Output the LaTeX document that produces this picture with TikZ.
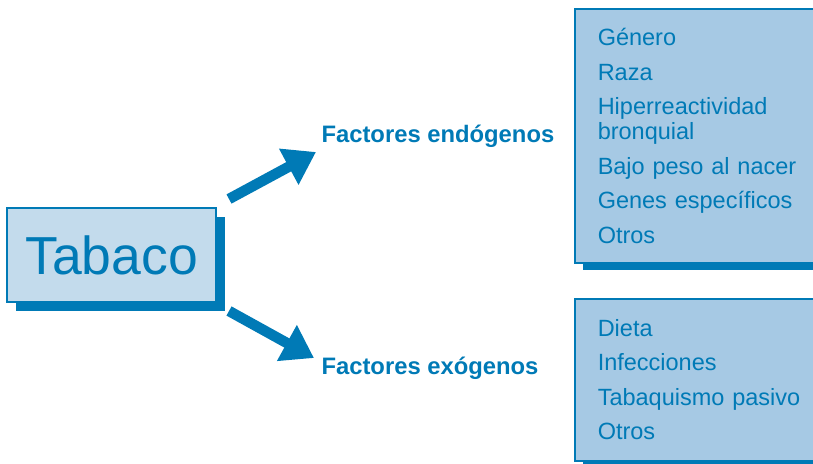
\documentclass[tikz,border=0pt]{standalone}
\usepackage{fontspec}
\setmainfont{Liberation Sans}
\usepackage{xcolor}
\definecolor{tabblue}{RGB}{0, 122, 182}
\definecolor{lightfill}{RGB}{195, 219, 236}
\definecolor{listfill}{RGB}{166, 201, 228}
\usetikzlibrary{arrows.meta, positioning, shadows}

\begin{document}
\begin{tikzpicture}[
    x=1pt, y=-1pt,
    mainbox/.style={rectangle, draw=tabblue, line width=1.5pt, fill=lightfill, minimum width=209pt, minimum height=94pt, text=tabblue, font=\fontsize{53.5}{56}\selectfont,
        general shadow={fill=tabblue, shadow xshift=8.5pt, shadow yshift=-9pt}},
    listbox/.style={rectangle, draw=tabblue, line width=1.5pt, fill=listfill, anchor=north west, minimum width=262pt, text width=216pt, inner xsep=22.5pt, align=left, text=tabblue, font=\fontsize{23.5}{25}\selectfont,
        general shadow={fill=tabblue, shadow xshift=8pt, shadow yshift=-7pt}},
    factor/.style={anchor=west, text=tabblue, font=\fontsize{23.8}{25}\selectfont\bfseries},
    bigarrow/.style={-{Triangle[length=31pt, width=39pt]}, line width=10.5pt, draw=tabblue}
]
    \useasboundingbox (0,0) rectangle (813,463);
    \clip (0,0) rectangle (813,463);

    \node[mainbox] (tabaco) at (111.5,255) {Tabaco};

    \node[factor] (endo) at (318,136) {Factores endógenos};
    \node[factor] (exo) at (318,368) {Factores exógenos};

    \node[listbox, minimum height=254pt] (endolist) at (574,8) {Género\\[9.5pt]Raza\\[9.5pt]Hiperreactividad\\bronquial\\[9.5pt]Bajo peso al nacer\\[9.5pt]Genes específicos\\[9.5pt]Otros};
    \node[listbox, minimum height=162pt] (exolist) at (574,298) {Dieta\\[9.5pt]Infecciones\\[9.5pt]Tabaquismo pasivo\\[9.5pt]Otros};

    % arrows from Tabaco to the two groups
    \coordinate (upstart) at (229,199);
    \coordinate (uptip) at (316,152);
    \coordinate (downstart) at (229,311);
    \coordinate (downtip) at (314,358);
    \draw[bigarrow] (upstart) -- (uptip);
    \draw[bigarrow] (downstart) -- (downtip);
\end{tikzpicture}
\end{document}
